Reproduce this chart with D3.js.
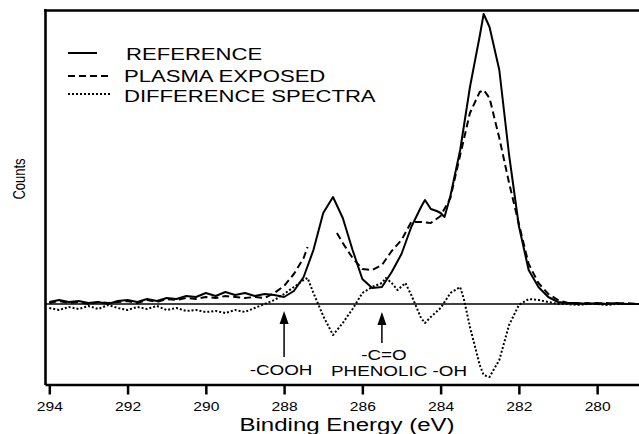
<!DOCTYPE html>
<html>
<head>
<meta charset="utf-8">
<script src="https://cdn.jsdelivr.net/npm/d3@7/dist/d3.min.js"></script>
<style>
  html, body { margin: 0; padding: 0; background: #fff; }
  svg { display: block; }
  text { font-family: "Liberation Sans", Arial, Helvetica, sans-serif; fill: #000; }
</style>
</head>
<body>
<svg id="chart" width="639" height="434"></svg>
<script>
// ---------------- data ----------------
const xTicks = [294, 292, 290, 288, 286, 284, 282, 280];

const refEnergy = [294,293.75,293.5,293.25,293,292.75,292.5,292.25,292,291.75,291.5,291.25,291,290.75,290.5,290.25,290,289.75,289.5,289.25,289,288.75,288.5,288.25,
  288,287.75,287.5,287.25,287,286.75,286.5,286.25,286,285.75,285.5,285.25,285,284.75,284.5,284.4,284.25,284.1,284,283.9,283.75,283.5,283.25,283,282.9,282.75,282.5,282.25,282,281.75,281.5,281.25,281,280.75,280.5,280.25,280,279.75,279.5,279.25,279,278.9];
const refCounts = [2,4,2,3,1,2,0,3,4,2,5,3,6,5,8,7,11,8,12,9,11,8,10,9,
  7,13,27,54,91,107,86,54,25,16,17,32,50,77,97,104,95,93,91,87,108,154,217,268,290,277,234,149,78,34,17,7,2,1,1,0,1,0,1,0,0,0];

const plasmaEnergy = [294,293.75,293.5,293.25,293,292.75,292.5,292.25,292,291.75,291.5,291.25,291,290.75,290.5,290.25,290,289.75,289.5,289.25,289,288.75,288.5,288.25,
  288,287.75,287.5,287.4,287.0,286.65,286.5,286.25,286,285.75,285.5,285.25,285,284.75,284.5,284.25,284,283.75,283.5,283.25,283,282.9,282.75,282.5,282.25,282,281.75,281.5,281.25,281,280.75,280.5,280.25,280,279.75,279.5,279.25,279,278.9];
const plasmaCounts = [1,3,1,2,0,2,1,2,3,1,4,2,5,4,6,5,7,6,8,7,6,7,6,11,
  18,30,46,57,null,71,61,46,35,34,39,53,64,82,82,81,88,106,149,191,212,214,206,166,121,80,40,21,10,4,1,0,1,0,1,0,1,0,0];

const diffEnergy = [294,293.75,293.5,293.25,293,292.75,292.5,292.25,292,291.75,291.5,291.25,291,290.75,290.5,290.25,290,289.75,289.5,289.25,289,288.75,288.5,288.25,
  288,287.75,287.5,287.4,287.25,287,286.75,286.5,286.25,286,285.75,285.5,285.4,285.25,285.1,284.9,284.75,284.5,284.4,284.25,284,283.75,283.5,283.4,283.25,283,282.9,282.75,282.5,282.25,282,281.75,281.5,281.25,281,280.75,280.5,280.25,280,279.75,279.5,279.25,279,278.9];
const diffCounts = [-4,-6,-3,-5,-2,-5,-1,-4,-6,-3,-5,-2,-6,-4,-7,-6,-8,-7,-9,-6,-8,-4,0,4,
  10,17,24,26,11,-12,-31,-19,-5,11,17,21,26,21,14,21,9,-14,-19,-13,-4,11,17,4,-23,-61,-71,-73,-56,-21,-1,5,4,2,0,0,-1,0,0,-1,0,0,0,0];

const legendLabels = ["REFERENCE", "PLASMA EXPOSED", "DIFFERENCE SPECTRA"];
const annotations = [
  {energy: 288.0, lines: ["-COOH"]},
  {energy: 285.5, lines: ["-C=O", "PHENOLIC -OH"]}
];

// ---------------- drawing ----------------
const svg = d3.select("#chart");
const SX = 1.3; // horizontal stretch of the original artwork's lettering

const x = d3.scaleLinear().domain([294.11, 278.93]).range([45, 639]);
const y = d3.scaleLinear().domain([-80, 294]).range([384, 10]);

function stretchedText(g, px, py, str, size, anchor) {
  return g.append("text")
    .attr("transform", `translate(${px},${py}) scale(${SX},1)`)
    .attr("text-anchor", anchor)
    .style("font-size", size + "px")
    .text(str);
}

// zero line
svg.append("line")
  .attr("x1", 45).attr("x2", 639)
  .attr("y1", y(0)).attr("y2", y(0))
  .attr("stroke", "#000").attr("stroke-width", 1.5);

// series
const line = d3.line()
  .defined(d => d[1] !== null)
  .x(d => x(d[0])).y(d => y(d[1]));

const seriesDefs = [
  {E: refEnergy, V: refCounts, dash: null, w: 2},
  {E: plasmaEnergy, V: plasmaCounts, dash: "7,4", w: 2},
  {E: diffEnergy, V: diffCounts, dash: "2,2", w: 2}
];
seriesDefs.forEach(s => {
  svg.append("path")
    .datum(s.E.map((e, i) => [e, s.V[i]]))
    .attr("d", line)
    .attr("fill", "none")
    .attr("stroke", "#000")
    .attr("stroke-width", s.w)
    .attr("stroke-linejoin", "round")
    .attr("stroke-dasharray", s.dash);
});

// frame: left and top
svg.append("line").attr("x1", 45.5).attr("x2", 45.5).attr("y1", 9).attr("y2", 385)
  .attr("stroke", "#000").attr("stroke-width", 2.6);
svg.append("line").attr("x1", 44).attr("x2", 639).attr("y1", 10.5).attr("y2", 10.5)
  .attr("stroke", "#000").attr("stroke-width", 2.6);

// bottom axis
const axis = d3.axisBottom(x).tickValues(xTicks).tickSize(10).tickSizeOuter(0).tickPadding(8)
  .tickFormat(d3.format("d"));
const ag = svg.append("g").attr("transform", "translate(0,384.5)").call(axis);
ag.select(".domain").attr("stroke-width", 2.6);
ag.selectAll(".tick line").attr("stroke-width", 2.5);
ag.selectAll(".tick text")
  .attr("transform", `scale(${SX},1)`)
  .style("font-size", "12px")
  .style("font-family", "'Liberation Sans', Arial, sans-serif");

// axis titles
stretchedText(svg, 347, 431, "Binding Energy (eV)", 18.5, "middle");
svg.append("text")
  .attr("transform", `translate(25,179) scale(${SX},1) rotate(-90)`)
  .attr("text-anchor", "middle")
  .style("font-size", "13px")
  .text("Counts");

// legend
const legendY = [53, 76, 94];
const legendTextY = [60, 82, 101.5];
const legendTextX = [126, 124, 124];
const legendLineEnd = [97, 110, 110];
legendLabels.forEach((lab, i) => {
  svg.append("line")
    .attr("x1", 68).attr("x2", legendLineEnd[i])
    .attr("y1", legendY[i]).attr("y2", legendY[i])
    .attr("stroke", "#000").attr("stroke-width", 2)
    .attr("stroke-dasharray", seriesDefs[i].dash);
  stretchedText(svg, legendTextX[i], legendTextY[i], lab, 17, "start");
});

// annotation arrows
const arrowTail = [357, 343];
const arrowTip = [311, 312];
annotations.forEach((a, i) => {
  const ax = x(a.energy);
  svg.append("line")
    .attr("x1", ax).attr("x2", ax)
    .attr("y1", arrowTail[i]).attr("y2", arrowTip[i] + 10)
    .attr("stroke", "#000").attr("stroke-width", 1.5);
  svg.append("path")
    .attr("d", `M${ax - 4.5},${arrowTip[i] + 13} L${ax},${arrowTip[i]} L${ax + 4.5},${arrowTip[i] + 13} Z`)
    .attr("fill", "#000");
});
stretchedText(svg, 281, 375, annotations[0].lines[0], 14.5, "middle");
stretchedText(svg, 384, 360, annotations[1].lines[0], 14.5, "middle");
stretchedText(svg, 399, 376, annotations[1].lines[1], 14.5, "middle");
</script>
</body>
</html>
